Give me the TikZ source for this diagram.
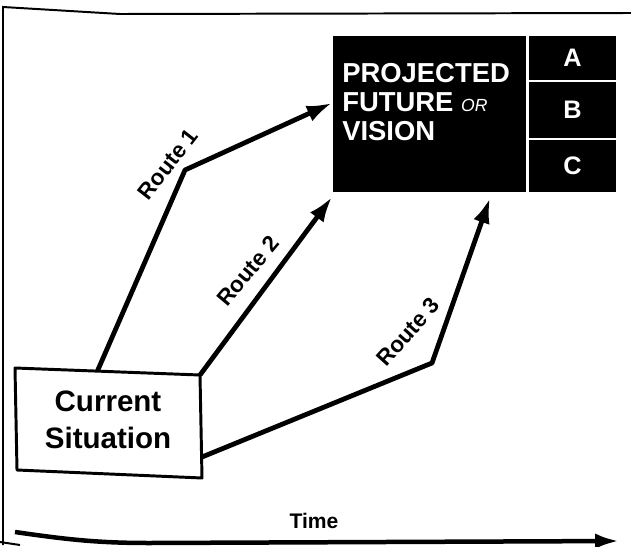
\documentclass[tikz,border=0pt]{standalone}
\usepackage{fontspec}
\setmainfont{Liberation Sans}
\usetikzlibrary{arrows.meta,positioning}

\tikzset{
  route/.style={line width=3.4pt, line join=round, -{Latex[length=18pt,width=12pt]}},
  routelabel/.style={font=\bfseries\fontsize{16}{18}\selectfont, inner sep=0pt},
  celltext/.style={text=white, font=\bfseries\fontsize{18}{20}\selectfont, inner sep=0pt},
  frameline/.style={line width=1.4pt},
}

\begin{document}
\begin{tikzpicture}[x=0.025cm,y=-0.025cm]
      \useasboundingbox (0,0) rectangle (631,546);
      \draw[frameline] (631,13) -- (120,14) -- (3,7) -- (3,545);
      \draw[frameline] (0,542) -- (20,545);

      \fill (333,36) rectangle (526,192);
      \node[anchor=north west, text=white, align=left, inner sep=0pt,
            font=\bfseries\fontsize{19.5}{20.5}\selectfont] (vision) at (342,63)
            {PROJECTED\\FUTURE {\mdseries\itshape\fontsize{12.5}{12}\selectfont OR}\\VISION};
      \foreach \t/\ya/\yb in {A/36/80, B/82/138, C/140/192}
      {
        \fill (529,\ya) rectangle (616,\yb);
        \node[celltext] (cell\t) at (572.5,{(\ya+\yb)/2}) {\t};
      }

      \coordinate (r1a) at (97,372);
      \coordinate (r1b) at (185,170);
      \coordinate (r1c) at (332,103);
      \coordinate (r2a) at (200,375);
      \coordinate (r2c) at (332,197);
      \coordinate (r3a) at (202,457);
      \coordinate (r3b) at (432,363);
      \coordinate (r3c) at (490,198);
      \draw[route] (r1a) -- (r1b) -- (r1c);
      \draw[route] (r2a) -- (r2c);
      \draw[route] (r3a) -- (r3b) -- (r3c);

      \node[routelabel, rotate=52] (route1) at (168,164) {Route 1};
      \node[routelabel, rotate=50] (route2) at (248,271) {Route 2};
      \node[routelabel, rotate=48] (route3) at (408,332) {Route 3};

      \draw[line width=2.1pt, line join=round, fill=white]
            (15,368) -- (200,375) -- (202,478) -- (17,470) -- cycle;
      \node[font=\bfseries\fontsize{21}{26}\selectfont, align=center] (current) at (108,420)
            {Current\\Situation};

      \coordinate (t0) at (15,532);
      \coordinate (t1) at (619,541);
      \node[font=\bfseries\fontsize{15}{17}\selectfont] (time) at (314,521) {Time};
      \draw[line width=3.2pt, -{Latex[length=17pt,width=11pt]}]
            (t0) .. controls (70,540) and (100,543) .. (150,543) -- (t1);
    \end{tikzpicture}
\end{document}
